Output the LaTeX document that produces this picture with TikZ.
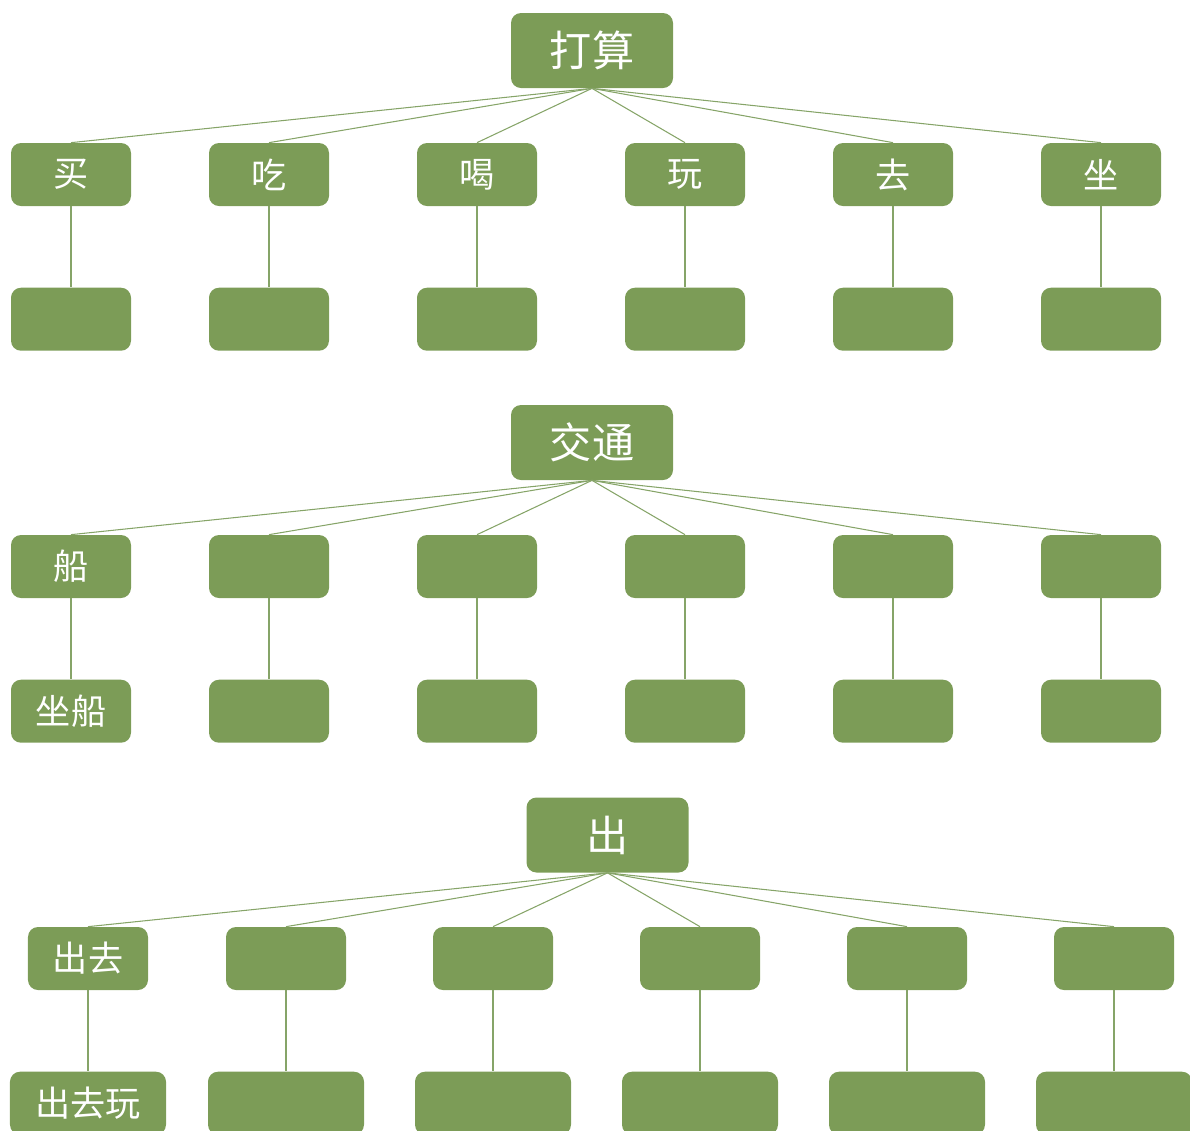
\documentclass[tikz,border=0pt]{standalone}
\usepackage{fontspec}
\newfontfamily\cjk{Noto Sans CJK SC}
\usetikzlibrary{positioning}
\definecolor{leafgreen}{HTML}{7C9C57}
\definecolor{linkgreen}{HTML}{86A468}
\tikzset{
    box/.style={rectangle, rounded corners=0.2cm, fill=leafgreen, text=white,
      font=\cjk\fontsize{20}{20}\selectfont, minimum width=2.4cm, minimum height=1.26cm, inner sep=0pt},
    rootbox/.style={box, minimum width=3.24cm, minimum height=1.5cm, font=\cjk\fontsize{24}{24}\selectfont},
    widebox/.style={box, minimum width=3.12cm},
    link/.style={draw=linkgreen, line width=0.6pt},
}
\begin{document}
\begin{tikzpicture}
    \useasboundingbox (0,0) rectangle (23.8,-22.62);

    % 打算
    \node[rootbox] (plan) at (11.84,-1.01) {打算};
    \foreach \x/\t [count=\i] in {1.42/买, 5.38/吃, 9.54/喝, 13.70/玩, 17.86/去, 22.02/坐} {
      \node[box] (plan\i) at (\x,-3.49) {\t};
      \node[box, below=1.62cm of plan\i] (plansub\i) {};
      \draw[link] (plan.south) -- (plan\i.north);
      \draw[link] (plan\i) -- (plansub\i);
    }

    % 交通
    \node[rootbox] (traffic) at (11.84,-8.85) {交通};
    \foreach \x/\t/\s [count=\i] in {1.42/船/坐船, 5.38/{}/{}, 9.54/{}/{}, 13.70/{}/{}, 17.86/{}/{}, 22.02/{}/{}} {
      \node[box] (traffic\i) at (\x,-11.33) {\t};
      \node[box, below=1.62cm of traffic\i] (trafficsub\i) {\s};
      \draw[link] (traffic.south) -- (traffic\i.north);
      \draw[link] (traffic\i) -- (trafficsub\i);
    }

    % 出
    \node[rootbox] (out) at (12.15,-16.70) {出};
    \foreach \x/\t/\s [count=\i] in {1.76/出去/出去玩, 5.72/{}/{}, 9.86/{}/{}, 14.00/{}/{}, 18.14/{}/{}, 22.28/{}/{}} {
      \node[box] (out\i) at (\x,-19.17) {\t};
      \node[widebox, below=1.62cm of out\i] (outsub\i) {\s};
      \draw[link] (out.south) -- (out\i.north);
      \draw[link] (out\i) -- (outsub\i);
    }
\end{tikzpicture}
\end{document}
